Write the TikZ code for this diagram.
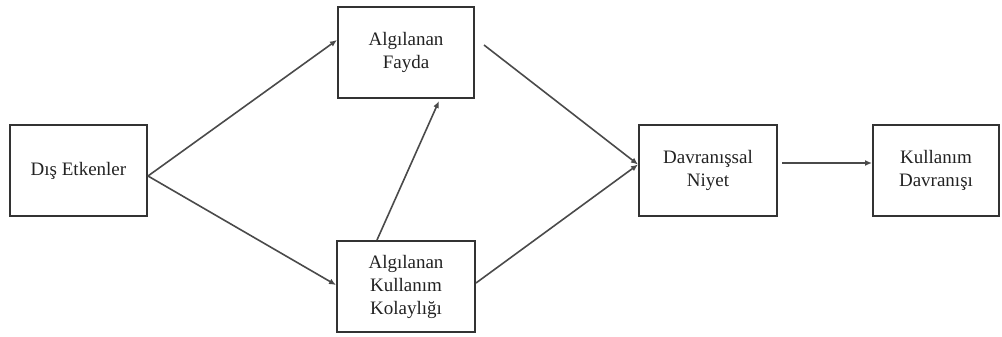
\documentclass[tikz,border=0pt]{standalone}
\usepackage{fontspec}
\setmainfont{Liberation Serif}
\usetikzlibrary{arrows.meta,calc}
\definecolor{boxline}{HTML}{333333}
\definecolor{conn}{HTML}{4A4A4A}
\definecolor{txt}{HTML}{222222}
\begin{document}
\begin{tikzpicture}[x=1pt,y=-1pt,
  box/.style={draw=boxline,line width=2pt,rectangle,minimum height=91pt,
    align=center,text=txt,font=\fontsize{19}{23}\selectfont,inner sep=0pt},
  conn/.style={draw=conn,line width=1.6pt,-{Latex[length=7pt,width=6pt]}}]
\useasboundingbox (0,0) rectangle (1002,337);
\node[box,minimum width=137pt] (dis) at (78.5,170.5) {Dış Etkenler};
\node[box,minimum width=136pt] (fayda) at (406,52.5) {Algılanan\\Fayda};
\node[box,minimum width=138pt] (kolay) at (406,286.5) {Algılanan\\Kullanım\\Kolaylığı};
\node[box,minimum width=138pt] (niyet) at (708,170.5) {Davranışsal\\Niyet};
\node[box,minimum width=126pt] (davr) at (936,170.5) {Kullanım\\Davranışı};
\coordinate (disout) at ($(dis.east)+(0,5.5)$);
\coordinate (niyetin) at ($(niyet.west)+(0,-6)$);
\draw[conn] (disout) -- ($(fayda.west)+(0,-12.5)$);
\draw[conn] (disout) -- ($(kolay.west)+(0,-1.5)$);
\draw[conn] ($(kolay.north west)+(41,0)$) -- ($(fayda.south west)+(102,2)$);
\draw[conn] ($(fayda.east)+(9,-7.5)$) -- (niyetin);
\draw[conn] ($(kolay.east)+(0,-3.5)$) -- (niyetin);
\draw[conn] ($(niyet.east)+(4,-7.5)$) -- ($(davr.west)+(0,-7.5)$);
\end{tikzpicture}
\end{document}
